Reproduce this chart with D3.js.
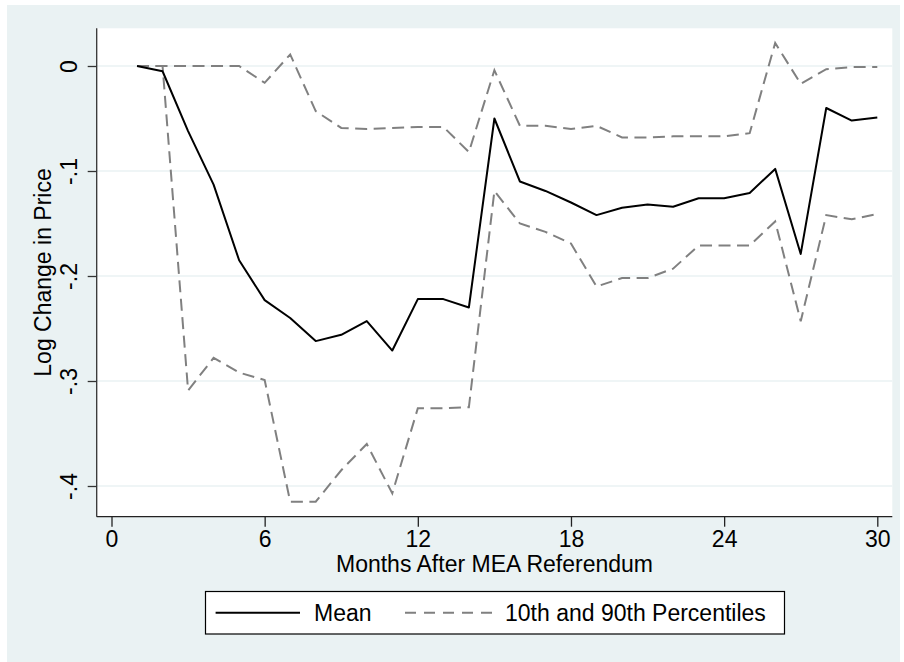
<!DOCTYPE html>
<html>
<head>
<meta charset="utf-8">
<script src="https://cdn.jsdelivr.net/npm/d3@7"></script>
<style>
  body { margin: 0; background: #fff; }
  svg text { font-family: "Liberation Sans", Arial, sans-serif; fill: #000; }
</style>
</head>
<body>
<div id="chart"></div>
<script>
// months after the referendum
const months = d3.range(1, 31)

// log change in price
const meanValues = [0, -0.005, -0.062, -0.113, -0.185, -0.223, -0.240, -0.262, -0.256, -0.243,
  -0.271, -0.222, -0.222, -0.230, -0.050, -0.110, -0.119, -0.130, -0.142, -0.135,
  -0.132, -0.134, -0.126, -0.126, -0.121, -0.098, -0.179, -0.040, -0.052, -0.049]

const p90Values = [0, 0, 0, 0, 0, -0.016, 0.011, -0.043, -0.059, -0.060,
  -0.059, -0.058, -0.058, -0.082, -0.004, -0.057, -0.057, -0.060, -0.057, -0.068,
  -0.068, -0.067, -0.067, -0.067, -0.064, 0.022, -0.017, -0.003, -0.001, -0.001]

const p10Values = [0, 0, -0.309, -0.278, -0.292, -0.299, -0.415, -0.415, -0.385, -0.360,
  -0.407, -0.326, -0.326, -0.325, -0.119, -0.150, -0.158, -0.169, -0.210, -0.202,
  -0.202, -0.193, -0.171, -0.171, -0.171, -0.148, -0.243, -0.142, -0.146, -0.141]

const xTicks = [0, 6, 12, 18, 24, 30]
const yTicks = [0, -0.1, -0.2, -0.3, -0.4]
const yTickLabels = ['0', '-.1', '-.2', '-.3', '-.4']

const width = 904
const height = 662
const fontSize = '23px'

const plot = { left: 96.7, right: 892.3, top: 28.3, bottom: 516.7 }

const x = d3.scaleLinear().domain([0, 30]).range([111.5, 877.3])
const y = d3.scaleLinear().domain([-0.4, 0]).range([486, 66])

const svg = d3.select('#chart')
  .append('svg')
    .attr('width', width)
    .attr('height', height)

// outer (graph region) background
svg.append('rect')
  .attr('x', 7).attr('y', 5)
  .attr('width', 893).attr('height', 657)
  .attr('fill', '#eaf2f3')

// plot region
svg.append('rect')
  .attr('x', plot.left).attr('y', plot.top)
  .attr('width', plot.right - plot.left).attr('height', plot.bottom - plot.top)
  .attr('fill', '#fff')

// grid lines
svg.selectAll('line.grid')
  .data(yTicks)
  .enter()
  .append('line')
    .attr('class', 'grid')
    .attr('x1', plot.left).attr('x2', plot.right)
    .attr('y1', d => y(d)).attr('y2', d => y(d))
    .attr('stroke', '#eaf2f3')
    .attr('stroke-width', 1.6)

// y axis
const yAxis = svg.append('g')
  .attr('transform', 'translate(' + plot.left + ',0)')
  .call(d3.axisLeft(y).tickValues(yTicks).tickSize(9).tickFormat((d, i) => yTickLabels[i]))
yAxis.select('.domain')
  .attr('d', 'M0,' + plot.top + 'V' + plot.bottom)
  .attr('stroke', '#333')
  .attr('stroke-width', 1.3)
yAxis.selectAll('.tick line').attr('stroke', '#333').attr('stroke-width', 1.3)
yAxis.selectAll('.tick text')
  .attr('x', null).attr('dy', null)
  .attr('transform', 'translate(-20,0) rotate(-90)')
  .attr('text-anchor', 'middle')
  .style('font-size', fontSize)
  .attr('fill', '#000')

// x axis
const xAxis = svg.append('g')
  .attr('transform', 'translate(0,' + plot.bottom + ')')
  .call(d3.axisBottom(x).tickValues(xTicks).tickSize(10).tickFormat(d3.format('d')))
xAxis.select('.domain')
  .attr('d', 'M' + plot.left + ',0H' + plot.right)
  .attr('stroke', '#222')
  .attr('stroke-width', 1.3)
xAxis.selectAll('.tick line').attr('stroke', '#222').attr('stroke-width', 1.3)
xAxis.selectAll('.tick text')
  .attr('y', 30.5).attr('dy', null)
  .style('font-size', fontSize)
  .attr('fill', '#000')

// axis titles
svg.append('text')
  .attr('x', (plot.left + plot.right) / 2)
  .attr('y', 571.5)
  .attr('text-anchor', 'middle')
  .style('font-size', fontSize)
  .text('Months After MEA Referendum')

svg.append('text')
  .attr('transform', 'translate(51,' + (plot.top + plot.bottom) / 2 + ') rotate(-90)')
  .attr('text-anchor', 'middle')
  .style('font-size', fontSize)
  .text('Log Change in Price')

// lines
const line = d3.line()
  .x((d, i) => x(months[i]))
  .y(d => y(d))

const dash = '12,6.5'

svg.append('path')
  .datum(p90Values)
  .attr('d', line)
  .attr('fill', 'none')
  .attr('stroke', '#808080')
  .attr('stroke-width', 2)
  .attr('stroke-dasharray', dash)

svg.append('path')
  .datum(p10Values)
  .attr('d', line)
  .attr('fill', 'none')
  .attr('stroke', '#808080')
  .attr('stroke-width', 2)
  .attr('stroke-dasharray', dash)

svg.append('path')
  .datum(meanValues)
  .attr('d', line)
  .attr('fill', 'none')
  .attr('stroke', '#000')
  .attr('stroke-width', 2)
  .attr('stroke-linejoin', 'round')

// legend
const legend = svg.append('g')
legend.append('rect')
  .attr('x', 205.5).attr('y', 591.5)
  .attr('width', 579).attr('height', 42.5)
  .attr('fill', '#fff')
  .attr('stroke', '#000')
  .attr('stroke-width', 1.2)

legend.append('line')
  .attr('x1', 215.6).attr('x2', 300)
  .attr('y1', 612.7).attr('y2', 612.7)
  .attr('stroke', '#000')
  .attr('stroke-width', 2)
legend.append('text')
  .attr('x', 314).attr('y', 620.5)
  .style('font-size', fontSize)
  .text('Mean')

legend.append('line')
  .attr('x1', 405).attr('x2', 492)
  .attr('y1', 612.7).attr('y2', 612.7)
  .attr('stroke', '#808080')
  .attr('stroke-width', 2)
  .attr('stroke-dasharray', '11,8')
legend.append('text')
  .attr('x', 505).attr('y', 620.5)
  .style('font-size', fontSize)
  .text('10th and 90th Percentiles')
</script>
</body>
</html>
